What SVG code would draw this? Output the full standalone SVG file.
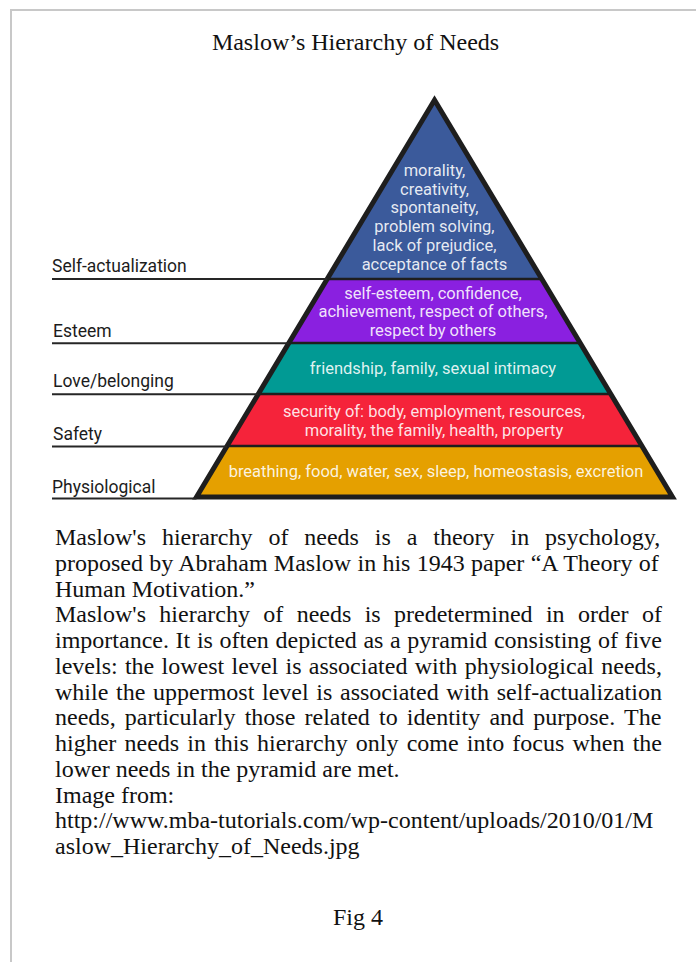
<svg xmlns="http://www.w3.org/2000/svg" width="696" height="962" viewBox="0 0 696 962">
  <style>
    .frame { stroke: #c8c8c8; stroke-width: 2; fill: none; }
    .serif { font-family: "Liberation Serif", "Times New Roman", serif; font-size: 24px; fill: #111; }
    .label { font-family: Roboto, "Open Sans", sans-serif; font-size: 17.5px; fill: #1c1c1c; }
    .tiertext { font-family: Roboto, "Open Sans", sans-serif; font-size: 16.5px; fill: #ffffff; fill-opacity: 0.88; text-anchor: middle; }
    .leader { stroke: #262626; stroke-width: 2; fill: none; }
    .sep { stroke: #1e1e1e; stroke-width: 2.5; fill: none; }
    .outline { stroke: #1e1e1e; stroke-width: 5; fill: none; stroke-linejoin: miter; }
  </style>

  <rect x="0" y="0" width="696" height="962" fill="#ffffff"/>

  <!-- page frame: top and left rules -->
  <path class="frame" d="M10 10 H696 M11 10 V962"/>

  <text id="title" class="serif" x="355.5" y="50" text-anchor="middle">Maslow’s Hierarchy of Needs</text>

  <!-- pyramid tiers, bottom to top -->
  <g id="tier-physiological">
    <polygon points="227.1,446 641.9,446 672.5,497 196.5,497" fill="#e5a000"/>
    <text class="tiertext" x="436" y="477">breathing, food, water, sex, sleep, homeostasis, excretion</text>
  </g>
  <g id="tier-safety">
    <polygon points="258.2,394 610.8,394 641.9,446 227.1,446" fill="#f5233a"/>
    <text class="tiertext" x="434" y="417">security of: body, employment, resources,</text>
    <text class="tiertext" x="434" y="435.5">morality, the family, health, property</text>
  </g>
  <g id="tier-love">
    <polygon points="288.8,343 580.2,343 610.8,394 258.2,394" fill="#019a94"/>
    <text class="tiertext" x="433" y="373.5">friendship, family, sexual intimacy</text>
  </g>
  <g id="tier-esteem">
    <polygon points="327.2,279 541.8,279 580.2,343 288.8,343" fill="#8a20e0"/>
    <text class="tiertext" x="433" y="298.5">self-esteem, confidence,</text>
    <text class="tiertext" x="433" y="317">achievement, respect of others,</text>
    <text class="tiertext" x="433" y="335.5">respect by others</text>
  </g>
  <g id="tier-self-actualization">
    <polygon points="434.5,100 541.8,279 327.2,279" fill="#3b5a9b"/>
    <text class="tiertext" x="434.5" y="176">morality,</text>
    <text class="tiertext" x="434.5" y="194.7">creativity,</text>
    <text class="tiertext" x="434.5" y="213.4">spontaneity,</text>
    <text class="tiertext" x="434.5" y="232.1">problem solving,</text>
    <text class="tiertext" x="434.5" y="250.8">lack of prejudice,</text>
    <text class="tiertext" x="434.5" y="269.5">acceptance of facts</text>
  </g>

  <!-- tier separators and outer outline -->
  <g id="pyramid-outline">
    <path class="sep" d="M327.2 279 H541.8 M288.8 343 H580.2 M258.2 394 H610.8 M227.1 446 H641.9"/>
    <polygon class="outline" points="434.5,100 672.5,497 196.5,497"/>
  </g>

  <!-- level names -->
  <g id="label-self-actualization"><text class="label" x="52" y="272">Self-actualization</text></g>
  <g id="label-esteem"><text class="label" x="53" y="337">Esteem</text></g>
  <g id="label-love"><text class="label" x="53" y="387">Love/belonging</text></g>
  <g id="label-safety"><text class="label" x="53" y="439.5">Safety</text></g>
  <g id="label-physiological"><text class="label" x="52" y="493">Physiological</text></g>

  <!-- leader lines from level names to tier boundaries -->
  <g id="connectors">
    <line class="leader" x1="52" y1="279" x2="327.2" y2="279"/>
    <line class="leader" x1="52" y1="343.3" x2="288.8" y2="343.3"/>
    <line class="leader" x1="52" y1="394.3" x2="258.2" y2="394.3"/>
    <line class="leader" x1="52" y1="446.5" x2="227.1" y2="446.5"/>
    <line class="leader" x1="52" y1="498.5" x2="196.5" y2="498.5"/>
  </g>

  <!-- body text, justified lines use word-spacing -->
  <g id="body">
    <text class="serif" x="55" y="545" word-spacing="9.9">Maslow's hierarchy of needs is a theory in psychology,</text>
    <text class="serif" x="55" y="570.75" word-spacing="0.3">proposed by Abraham Maslow in his 1943 paper “A Theory of</text>
    <text class="serif" x="55" y="596.5">Human Motivation.”</text>
    <text class="serif" x="55" y="622.25" word-spacing="7.35">Maslow's hierarchy of needs is predetermined in order of</text>
    <text class="serif" x="55" y="648" word-spacing="0.64">importance. It is often depicted as a pyramid consisting of five</text>
    <text class="serif" x="55" y="673.75" word-spacing="1.3">levels: the lowest level is associated with physiological needs,</text>
    <text class="serif" x="55" y="699.5" word-spacing="1.68">while the uppermost level is associated with self-actualization</text>
    <text class="serif" x="55" y="725.25" word-spacing="3.2">needs, particularly those related to identity and purpose. The</text>
    <text class="serif" x="55" y="751" word-spacing="2.18">higher needs in this hierarchy only come into focus when the</text>
    <text class="serif" x="55" y="776.75">lower needs in the pyramid are met.</text>
    <text class="serif" x="55" y="802.5">Image from:</text>
    <text class="serif" x="55" y="828.25">http://www.mba-tutorials.com/wp-content/uploads/2010/01/M</text>
    <text class="serif" x="55" y="854">aslow_Hierarchy_of_Needs.jpg</text>
  </g>

  <text id="caption" class="serif" x="358" y="925" text-anchor="middle">Fig 4</text>
</svg>
